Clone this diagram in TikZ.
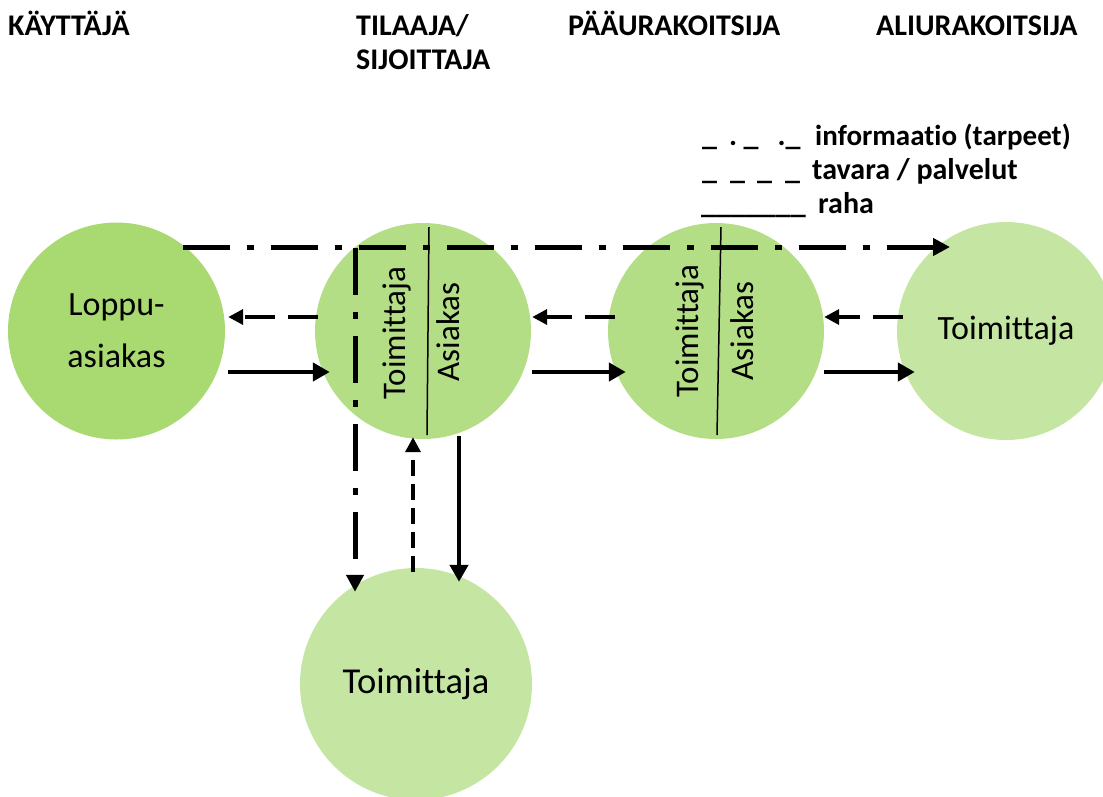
\documentclass[tikz,border=0pt]{standalone}
\usepackage{fontspec}
\setmainfont[Ligatures={NoCommon,NoContextual},Contextuals={NoAlternate}]{Carlito}
\usetikzlibrary{arrows.meta,calc}
\definecolor{gA}{RGB}{169,217,113}
\definecolor{gB}{RGB}{180,222,134}
\definecolor{gC}{RGB}{197,230,163}
\tikzset{
  bubble/.style={circle,draw=none,inner sep=0pt,text=black},
  hdr/.style={anchor=base west,inner sep=0pt,font=\fontsize{30}{34}\selectfont\bfseries},
  leg/.style={anchor=base west,inner sep=0pt,font=\fontsize{30}{34}\selectfont\bfseries},
  rtxt/.style={rotate=90,inner sep=0pt,font=\fontsize{33}{38}\selectfont},
  divider/.style={line width=1.5pt},
  money/.style={line width=4.5pt,-{Triangle[length=17pt,width=18pt]}},
  goods/.style={line width=3.5pt,dash pattern=on 30pt off 13pt,-{Triangle[length=15pt,width=15pt]}},
  goodsv/.style={line width=3.5pt,dash pattern=on 16pt off 8pt,-{Triangle[length=15pt,width=15pt]}},
  info/.style={line width=5pt,dash pattern=on 47pt off 17pt on 7pt off 17pt,-{Triangle[length=17pt,width=17pt]}}
}
\begin{document}
\begin{tikzpicture}[x=1pt,y=-1pt]
\useasboundingbox (0,0) rectangle (1103,796);
% circles
\node[bubble,fill=gA,minimum size=217pt,font=\fontsize{34}{52}\selectfont,align=center] (c1) at (116.5,331) {Loppu-\\asiakas};
\node[bubble,fill=gB,minimum size=216pt] (c2) at (423,331) {};
\node[bubble,fill=gB,minimum size=216pt] (c3) at (716,331) {};
\node[bubble,fill=gC,minimum size=218pt,font=\fontsize{34}{38}\selectfont] (c4) at (1006,331) {Toimittaja};
\node[bubble,fill=gC,minimum size=232pt,font=\fontsize{36.5}{42}\selectfont] (c5) at (416,684) {Toimittaja};
% dividers and rotated labels
\coordinate (d2a) at (429,227); \coordinate (d2b) at (427,435);
\coordinate (d3a) at (721,227); \coordinate (d3b) at (717,435);
\draw[divider] (d2a) -- (d2b);
\draw[divider] (d3a) -- (d3b);
\node[rtxt] (t2) at (397,333) {Toimittaja};
\node[rtxt] (a2) at (448,332) {Asiakas};
\node[rtxt] (t3) at (690,331) {Toimittaja};
\node[rtxt] (a3) at (742,331) {Asiakas};
% headers
\node[hdr] (h1) at (8,35) {KÄYTTÄJÄ};
\node[hdr] (h2) at (356,35) {TILAAJA/};
\node[hdr] (h2b) at (356,69) {SIJOITTAJA};
\node[hdr] (h3) at (568,35) {PÄÄURAKOITSIJA};
\node[hdr] (h4) at (876,35) {ALIURAKOITSIJA};
% legend
\node[leg] (l1s) at (702,145) {\_\hspace{12pt}.\hspace{6.5pt}\_\hspace{19pt}.\_};
\node[leg,font=\fontsize{29}{34}\selectfont\bfseries] (l1) at (815,145) {informaatio (tarpeet)};
\node[leg] (l2s) at (702,179) {\_\hspace{13pt}\_\hspace{12pt}\_\hspace{13pt}\_};
\node[leg] (l2) at (812,179) {tavara / palvelut};
\node[leg] (l3s) at (701,213) {\_\_\_\_\_\_\_};
\node[leg] (l3) at (818,213) {raha};
% goods (dashed)
\draw[goods] ($(c2.west)+(3,-14)$) -- ($(c1.east)+(3,-14)$);
\draw[goods] ($(c3.west)+(7,-14)$) -- ($(c2.east)+(1,-14)$);
\draw[goods] ($(c4.west)+(6,-14)$) -- ($(c3.east)+(0,-14)$);
\draw[goodsv] ($(c5.north)+(-3,4)$) -- ($(c2.south)+(-10,-2)$);
% money (solid)
\draw[money] ($(c1.east)+(3,41)$) -- ($(c2.west)+(15,41)$);
\draw[money] ($(c2.east)+(1,41)$) -- ($(c3.west)+(18,41)$);
\draw[money] ($(c3.east)+(0,41)$) -- ($(c4.west)+(18,41)$);
\draw[money] ($(c2.south)+(36,-3)$) -- ($(c5.north)+(43,14)$);
% information (dash-dot)
\draw[info] ($(c1.center)+(66.5,-84)$) -- ($(c4.center)+(-56,-84)$);
\draw[info] ($(c2.center)+(-68,-83)$) -- ($(c5.north)+(-61,24)$);
\end{tikzpicture}
\end{document}
